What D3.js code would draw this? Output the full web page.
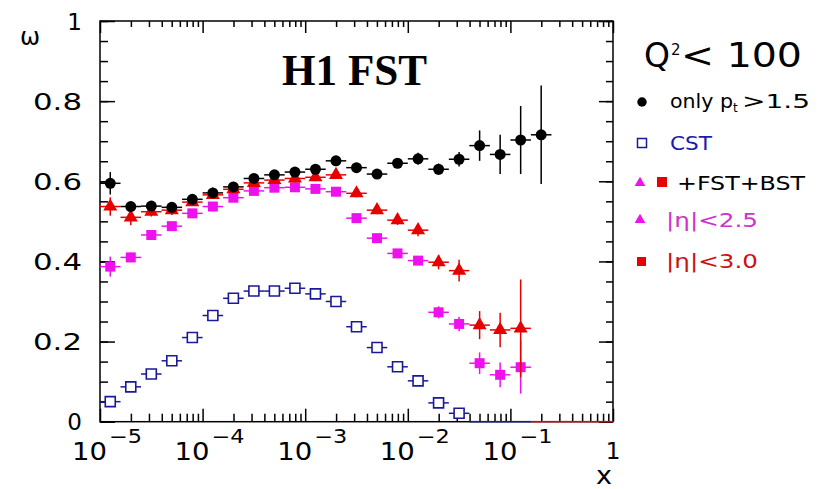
<!DOCTYPE html>
<html>
  <head>
    <meta charset="utf-8">
    <script src="https://d3js.org/d3.v7.min.js"></script>
    <style>
      body { margin: 0; background: white; }
      text { font-family: "DejaVu Sans", sans-serif; }
    </style>
  </head>
  <body>
    <script>
      // bin centres, log10(x)
      var binLogX = [-4.9,-4.7,-4.5,-4.3,-4.1,-3.9,-3.7,-3.5,-3.3,-3.1,-2.9,-2.7,-2.5,
                     -2.3,-2.1,-1.9,-1.7,-1.5,-1.3,-1.1,-0.9,-0.7,-0.5,-0.3,-0.1];

      // only pt > 1.5 (black circles)
      var ptVal = [0.595,0.537,0.538,0.535,0.555,0.571,0.586,0.607,0.616,0.623,0.630,0.651,0.634,
                   0.618,0.645,0.656,0.630,0.655,0.689,0.667,0.703,0.716];
      var ptErr = [0.028,0.010,0.010,0.010,0.010,0.010,0.010,0.010,0.010,0.010,0.010,0.010,0.012,
                   0.012,0.012,0.015,0.014,0.018,0.038,0.049,0.085,0.123];

      // red triangles
      var redVal = [0.537,0.510,0.524,0.528,0.548,0.566,0.580,0.596,0.603,0.607,0.610,0.616,0.570,
                    0.528,0.503,0.478,0.398,0.377,0.241,0.229,0.233,0,0,0,0];
      var redErr = [0.023,0.020,0.012,0.012,0.010,0.010,0.010,0.010,0.010,0.010,0.010,0.010,0.010,
                    0.010,0.012,0.015,0.018,0.027,0.035,0.043,0.122,0,0,0,0];

      // magenta squares
      var magVal = [0.387,0.410,0.466,0.488,0.520,0.537,0.559,0.576,0.584,0.585,0.581,0.574,0.508,
                    0.458,0.420,0.402,0.273,0.244,0.146,0.117,0.136];
      var magErr = [0.025,0.012,0.010,0.010,0.010,0.010,0.010,0.010,0.010,0.010,0.010,0.010,0.010,
                    0.010,0.010,0.010,0.015,0.018,0.027,0.031,0.066];

      // CST (blue open squares)
      var cstVal = [0.050,0.087,0.119,0.152,0.210,0.265,0.308,0.326,0.326,0.333,0.319,0.300,0.237,
                    0.185,0.137,0.102,0.047,0.021,0,0,0];

      var yTicks = [0,0.2,0.4,0.6,0.8,1];
      var yTickLabels = ["0","0.2","0.4","0.6","0.8","1"];
      var xDecades = [-5,-4,-3,-2,-1];

      var svg = d3.select("body").append("svg")
        .attr("width", 823)
        .attr("height", 489);

      var x = d3.scaleLog().domain([1e-5, 1]).range([100, 613]);
      var y = d3.scaleLinear().domain([0, 1]).range([421.7, 21]);
      var halfBin = 0.1;

      // minor tick values
      var xMinor = [];
      xDecades.forEach(function(d){
        for (var m = 2; m <= 9; m++) xMinor.push(m * Math.pow(10, d));
      });
      var xMajor = xDecades.map(function(d){ return Math.pow(10, d); }).concat([1]);
      var yMinor = d3.range(0, 21).map(function(i){ return i * 0.05; });

      function styleAxis(g){
        g.select(".domain").remove();
        g.selectAll("line").attr("stroke", "black").attr("stroke-width", 1.5);
      }
      // bottom (ticks pointing up)
      svg.append("g").attr("transform", "translate(0,421.7)")
        .call(d3.axisTop(x).tickValues(xMinor).tickSize(8).tickFormat("")).call(styleAxis);
      svg.append("g").attr("transform", "translate(0,421.7)")
        .call(d3.axisTop(x).tickValues(xMajor).tickSize(13).tickFormat("")).call(styleAxis);
      // top (ticks pointing down)
      svg.append("g").attr("transform", "translate(0,21)")
        .call(d3.axisBottom(x).tickValues(xMinor).tickSize(6).tickFormat("")).call(styleAxis);
      svg.append("g").attr("transform", "translate(0,21)")
        .call(d3.axisBottom(x).tickValues(xMajor).tickSize(12).tickFormat("")).call(styleAxis);
      // left (ticks pointing right)
      svg.append("g").attr("transform", "translate(100,0)")
        .call(d3.axisRight(y).tickValues(yMinor).tickSize(8).tickFormat("")).call(styleAxis);
      svg.append("g").attr("transform", "translate(100,0)")
        .call(d3.axisRight(y).tickValues(yTicks).tickSize(15).tickFormat("")).call(styleAxis);
      // right (ticks pointing left)
      svg.append("g").attr("transform", "translate(613,0)")
        .call(d3.axisLeft(y).tickValues(yMinor).tickSize(7).tickFormat("")).call(styleAxis);
      svg.append("g").attr("transform", "translate(613,0)")
        .call(d3.axisLeft(y).tickValues(yTicks).tickSize(14).tickFormat("")).call(styleAxis);

      // frame
      svg.append("rect")
        .attr("x", 100).attr("y", 21)
        .attr("width", 513).attr("height", 400.7)
        .attr("fill", "none").attr("stroke", "black").attr("stroke-width", 1.5);

      // y tick labels
      svg.selectAll(".ylab").data(yTicks).enter().append("text")
        .attr("class", "ylab")
        .attr("x", 82)
        .attr("y", function(d){ return y(d) + 8.5; })
        .attr("text-anchor", "end")
        .attr("font-size", 23)
        .attr("textLength", function(d,i){ return yTickLabels[i].length > 1 ? 49 : null; })
        .attr("lengthAdjust", "spacingAndGlyphs")
        .text(function(d,i){ return yTickLabels[i]; });

      // x tick labels 10^n
      xDecades.forEach(function(d){
        var px = x(Math.pow(10, d));
        svg.append("text").attr("x", px - 28).attr("y", 460)
          .attr("font-size", 24).attr("textLength", 35).attr("lengthAdjust", "spacingAndGlyphs")
          .text("10");
        svg.append("text").attr("x", px + 9).attr("y", 443)
          .attr("font-size", 19).attr("textLength", 33).attr("lengthAdjust", "spacingAndGlyphs")
          .text("\u2212" + Math.abs(d));
      });
      svg.append("text").attr("x", x(1)).attr("y", 459)
        .attr("text-anchor", "middle").attr("font-size", 23).text("1");

      // axis titles
      svg.append("text").attr("x", 612).attr("y", 484)
        .attr("text-anchor", "end").attr("font-size", 24)
        .attr("textLength", 16).attr("lengthAdjust", "spacingAndGlyphs").text("x");
      svg.append("text").attr("x", 20).attr("y", 45)
        .attr("font-size", 24).text("\u03c9");

      // title
      svg.append("text").attr("x", 282).attr("y", 85)
        .style("font-family", "'Liberation Serif', serif")
        .attr("font-weight", "bold").attr("font-size", 44)
        .attr("textLength", 145).attr("lengthAdjust", "spacingAndGlyphs")
        .text("H1 FST");

      function withErr(vals, errs){
        return vals.map(function(v, i){ return {lx: binLogX[i], v: v, e: errs ? errs[i] : 0}; });
      }

      function drawBars(data, color){
        var g = svg.append("g").attr("stroke", color).attr("stroke-width", 1.5);
        g.selectAll(".h").data(data).enter().append("line")
          .attr("x1", function(d){ return x(Math.pow(10, d.lx - halfBin)); })
          .attr("x2", function(d){ return x(Math.pow(10, d.lx + halfBin)); })
          .attr("y1", function(d){ return y(d.v); })
          .attr("y2", function(d){ return y(d.v); });
        g.selectAll(".v").data(data.filter(function(d){ return d.e > 0; })).enter().append("line")
          .attr("x1", function(d){ return x(Math.pow(10, d.lx)); })
          .attr("x2", function(d){ return x(Math.pow(10, d.lx)); })
          .attr("y1", function(d){ return y(d.v - d.e); })
          .attr("y2", function(d){ return y(d.v + d.e); });
      }

      var sym = {
        circle: d3.symbol().type(d3.symbolCircle).size(95),
        square: d3.symbol().type(d3.symbolSquare).size(100),
        triangle: d3.symbol().type(d3.symbolTriangle).size(85)
      };

      function drawMarks(data, shape, fill, stroke){
        svg.append("g").selectAll("path").data(data.filter(function(d){ return d.v > 0; }))
          .enter().append("path")
          .attr("transform", function(d){ return "translate(" + x(Math.pow(10, d.lx)) + "," + y(d.v) + ")"; })
          .attr("d", sym[shape])
          .attr("fill", fill)
          .attr("stroke", stroke || "none")
          .attr("stroke-width", 1.6);
      }

      var cst = withErr(cstVal, null);
      var mag = withErr(magVal, magErr);
      var red = withErr(redVal, redErr);
      var pt = withErr(ptVal, ptErr);

      drawBars(cst, "#1a1a99");
      drawMarks(cst, "square", "white", "#1a1a99");
      drawBars(mag, "#ee11ee");
      drawMarks(mag, "square", "#ee11ee");
      drawBars(red, "#e60000");
      drawMarks(red, "triangle", "#e60000");
      drawBars(pt, "black");
      drawMarks(pt, "circle", "black");

      // legend header Q^2 < 100
      var q = svg.append("text").attr("x", 644).attr("y", 67).attr("font-size", 33);
      q.append("tspan").text("Q");
      q.append("tspan").attr("x", 671).attr("y", 55).attr("font-size", 15).text("2");
      q.append("tspan").attr("x", 681).attr("y", 67)
        .attr("textLength", 121).attr("lengthAdjust", "spacingAndGlyphs").text("< 100");

      var leg = svg.append("g");
      leg.append("path").attr("transform", "translate(642,102)").attr("d", d3.symbol().type(d3.symbolCircle).size(70)()).attr("fill", "black");
      leg.append("text").attr("x", 670).attr("y", 108).attr("font-size", 20)
        .attr("textLength", 63).attr("lengthAdjust", "spacingAndGlyphs").text("only p");
      leg.append("text").attr("x", 733).attr("y", 112).attr("font-size", 12).text("t");
      leg.append("text").attr("x", 742).attr("y", 108).attr("font-size", 20)
        .attr("textLength", 68).attr("lengthAdjust", "spacingAndGlyphs").text(">1.5");

      leg.append("rect").attr("x", 637.5).attr("y", 138.5).attr("width", 9).attr("height", 9)
        .attr("fill", "white").attr("stroke", "#1a1a99").attr("stroke-width", 1.5);
      leg.append("text").attr("x", 670).attr("y", 150).attr("font-size", 20).attr("fill", "#1b1bb0")
        .attr("textLength", 42).attr("lengthAdjust", "spacingAndGlyphs").text("CST");

      var legTri = d3.symbol().type(d3.symbolTriangle).size(50);
      leg.append("path").attr("transform", "translate(640,183)").attr("d", legTri()).attr("fill", "#ee11ee");
      leg.append("rect").attr("x", 657).attr("y", 177).attr("width", 10).attr("height", 10).attr("fill", "#e60000");
      leg.append("text").attr("x", 677).attr("y", 190).attr("font-size", 20)
        .attr("textLength", 128).attr("lengthAdjust", "spacingAndGlyphs").text("+FST+BST");

      leg.append("path").attr("transform", "translate(640,220)").attr("d", legTri()).attr("fill", "#ee11ee");
      leg.append("text").attr("x", 666).attr("y", 227).attr("font-size", 20).attr("fill", "#cc33cc")
        .attr("textLength", 92).attr("lengthAdjust", "spacingAndGlyphs").text("|\u03b7|<2.5");

      leg.append("rect").attr("x", 637).attr("y", 257).attr("width", 9).attr("height", 9).attr("fill", "#e60000");
      leg.append("text").attr("x", 666).attr("y", 268).attr("font-size", 20).attr("fill", "#cc1111")
        .attr("textLength", 92).attr("lengthAdjust", "spacingAndGlyphs").text("|\u03b7|<3.0");
    </script>
  </body>
</html>
